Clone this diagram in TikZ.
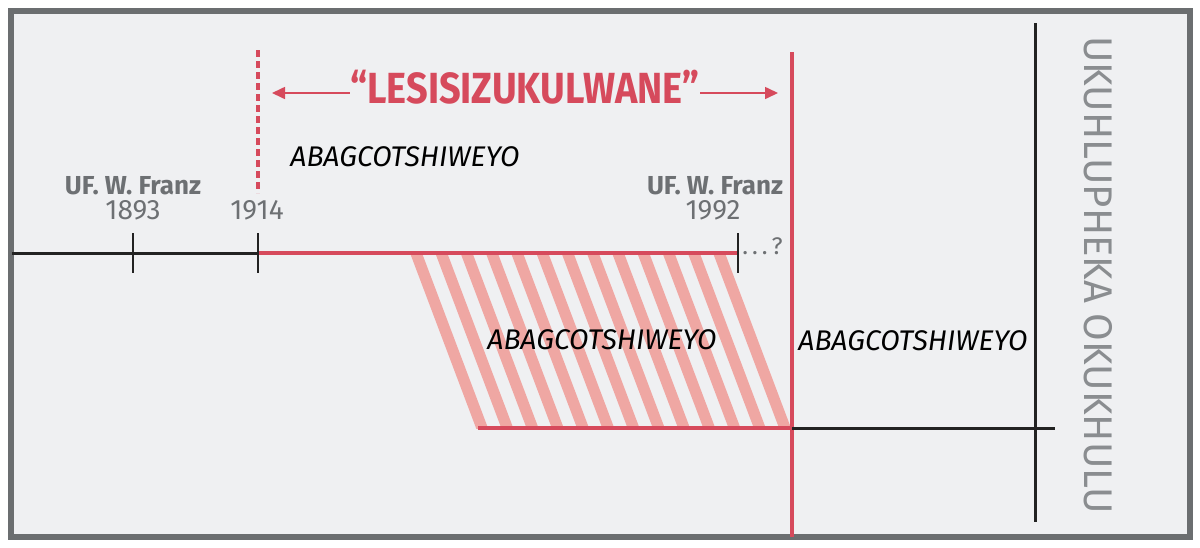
\documentclass[tikz,border=0pt]{standalone}
\usepackage{fontspec}
\setmainfont{Fira Sans}
\newfontfamily\titlefont[FakeStretch=0.87]{Fira Sans}
\usepackage{tikz}
\usetikzlibrary{arrows.meta,positioning,calc}
\definecolor{TlRed}{HTML}{D64A5C}
\definecolor{TlHatch}{HTML}{EFA7A3}
\definecolor{TlPaper}{HTML}{EFF0F2}
\definecolor{TlFrame}{HTML}{6B6E70}
\definecolor{TlGray}{HTML}{6D7073}
\definecolor{TlSide}{HTML}{8A8D90}
\definecolor{TlInk}{HTML}{222222}

\begin{document}
\begin{tikzpicture}[x=0.5pt,y=-0.5pt,
  axis/.style={TlInk,line width=1.5pt},
  redline/.style={TlRed,line width=2.1pt},
  tickmark/.style={TlInk,line width=1.2pt},
  who/.style={font=\fontsize{13}{15}\selectfont\bfseries,text=TlGray,inner sep=0pt},
  year/.style={font=\fontsize{14}{16}\selectfont,text=TlGray,inner sep=0pt},
  group/.style={font=\fontsize{14.2}{17}\selectfont\itshape,text=black,inner sep=0pt},
  titletext/.style={font=\titlefont\fontsize{21.8}{24}\selectfont\bfseries,text=TlRed,inner sep=0pt}]
  \useasboundingbox (0,0) rectangle (1200,547);
  % frame
  \draw[TlFrame,line width=3pt,fill=TlPaper] (11,11) rectangle (1190,537);

  % hatched block
  \begin{scope}
    \clip (400,255) rectangle (800,428);
    \foreach \k in {0,...,12}
      \draw[TlHatch,line width=5.6pt] (416+25.25*\k,253) -- ++(66,175);
  \end{scope}

  % upper time axis
  \coordinate (axL) at (12,253);
  \coordinate (t1893) at (133,253);
  \coordinate (t1914) at (258,253);
  \coordinate (t1992) at (738,253);
  \draw[axis] (axL) -- (t1914);
  \draw[redline,line width=1.8pt] (t1914) -- (t1992);
  \foreach \t in {t1893,t1914,t1992}
    \draw[tickmark] ($(\t)+(0,-20)$) -- ($(\t)+(0,20)$);

  \node[year,anchor=base] (y1893) at (133,219) {1893};
  \node[who,anchor=base] (w1893) at (133,194) {UF. W. Franz};
  \node[year,anchor=base] (y1914) at (257,219) {1914};
  \node[year,anchor=base] (y1992) at (713,219) {1992};
  \node[who,anchor=base] (w1992) at (715,194) {UF. W. Franz};
  \node[year,anchor=base west,font=\fontsize{12}{14}\selectfont] (open) at (742,254) {.\,.\,.\,?};

  % period markers
  \coordinate (dTop) at (258,50);
  \coordinate (dBot) at (258,193);
  \draw[redline,line width=2.3pt,dash pattern=on 3.5pt off 2pt] (dTop) -- (dBot);
  \coordinate (sTop) at (792,52);
  \coordinate (sBot) at (792,537);
  \draw[redline] (sTop) -- (sBot);

  % title with arrows
  \node[titletext,anchor=base] (title) at (525,103) {“LESISIZUKULWANE”};
  \coordinate (aL) at (272,93);
  \coordinate (aR) at (778,93);
  \draw[TlRed,line width=0.8pt,-{Triangle[length=6.5pt,width=6pt]}] (title.west |- aL) -- (aL);
  \draw[TlRed,line width=0.8pt,-{Triangle[length=6.5pt,width=6pt]}] (title.east |- aR) -- (aR);

  % lower axis
  \coordinate (bL) at (478,428);
  \coordinate (bM) at (792,428);
  \coordinate (bR) at (1055,428);
  \draw[redline,line width=1.9pt] (bL) -- (bM);
  \draw[axis] (bM) -- (bR);
  \coordinate (vTop) at (1035,23);
  \coordinate (vBot) at (1035,522);
  \draw[axis] (vTop) -- (vBot);

  % group labels
  \node[group,anchor=base west] (gTop) at (290,166) {ABAGCOTSHIWEYO};
  \node[group,anchor=base] (gMid) at (602,349) {ABAGCOTSHIWEYO};
  \node[group,anchor=base west] (gRight) at (798,350) {ABAGCOTSHIWEYO};

  % side caption
  \node[font=\fontsize{20}{22}\selectfont,text=TlSide,rotate=-90,inner sep=0pt] (side) at (1098,275) {UKUHLUPHEKA OKUKHULU};
\end{tikzpicture}
\end{document}
